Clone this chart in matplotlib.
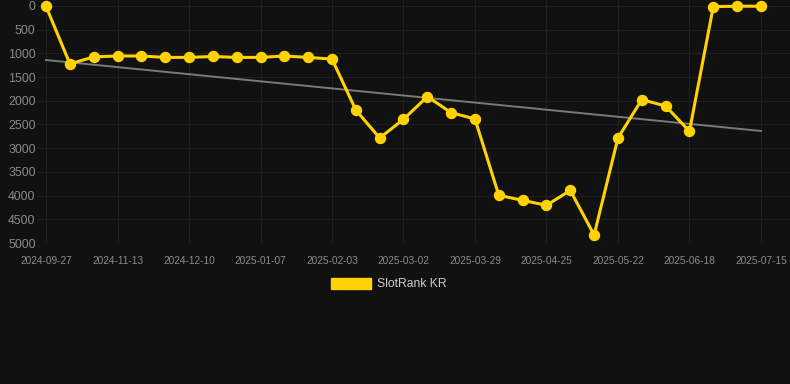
import matplotlib
matplotlib.use("Agg")
import matplotlib.pyplot as plt
from matplotlib.patches import Patch

dates = [
    "2024-09-27", "2024-10-13", "2024-10-29", "2024-11-13", "2024-11-22", "2024-12-01",
    "2024-12-10", "2024-12-19", "2024-12-28", "2025-01-07", "2025-01-16", "2025-01-25",
    "2025-02-03", "2025-02-12", "2025-02-21", "2025-03-02", "2025-03-11", "2025-03-20",
    "2025-03-29", "2025-04-07", "2025-04-16", "2025-04-25", "2025-05-04", "2025-05-13",
    "2025-05-22", "2025-05-31", "2025-06-09", "2025-06-18", "2025-06-27", "2025-07-06",
    "2025-07-15",
]
ranks = [
    10, 1220, 1075, 1055, 1055, 1085, 1085, 1065, 1085, 1085, 1055, 1085,
    1120, 2195, 2785, 2390, 1913, 2250, 2384, 3994, 4100, 4205, 3890, 4831,
    2785, 1976, 2110, 2645, 14, 5, 5,
]
trend = [1140, 2637]
y_ticks = [0, 500, 1000, 1500, 2000, 2500, 3000, 3500, 4000, 4500, 5000]
series_name = "SlotRank KR"

BG = "#111111"
GOLD = "#FFD200"

fig = plt.figure(figsize=(7.9, 3.84), dpi=100, facecolor=BG)
ax = fig.add_axes([37 / 790, 1 - 243 / 384, 1 - 37 / 790, 243 / 384])
ax.set_facecolor(BG)

x = list(range(len(dates)))
ax.plot([x[0], x[-1]], trend, color="#7a7a7a", lw=1.4, zorder=2)
ax.plot(x, ranks, color=GOLD, lw=2.2, marker="o", markersize=7.2,
        markerfacecolor=GOLD, markeredgecolor=GOLD, zorder=3, clip_on=False)

ax.set_xlim(-0.38, 31.22)
ax.set_ylim(5000, -126)
ax.set_yticks(y_ticks)
ax.set_yticklabels([str(v) for v in y_ticks], fontsize=8.9, color="#8a8a8a",
                   family="Liberation Sans")
tick_idx = list(range(0, len(dates), 3))
ax.set_xticks(tick_idx)
ax.set_xticklabels([dates[i] for i in tick_idx], fontsize=7.3, color="#8a8a8a",
                   family="Liberation Sans")
ax.tick_params(axis="both", length=0)
ax.tick_params(axis="y", pad=1)
ax.tick_params(axis="x", pad=9)
ax.grid(True, color="#202020", lw=0.8)
for s in ax.spines.values():
    s.set_visible(False)
ax.axhline(5000, color="#2a2a2a", lw=0.8, zorder=1)

handle = Patch(facecolor=GOLD, edgecolor=GOLD)
leg = fig.legend([handle], [series_name], loc="center", bbox_to_anchor=(389 / 790, 1 - 284 / 384),
                 frameon=False, handlelength=3.3, handleheight=1.0, handletextpad=0.5,
                 prop={"family": "Liberation Sans", "size": 8.7})
for t in leg.get_texts():
    t.set_color("#cccccc")

fig.savefig("out.png", dpi=100, facecolor=BG)
